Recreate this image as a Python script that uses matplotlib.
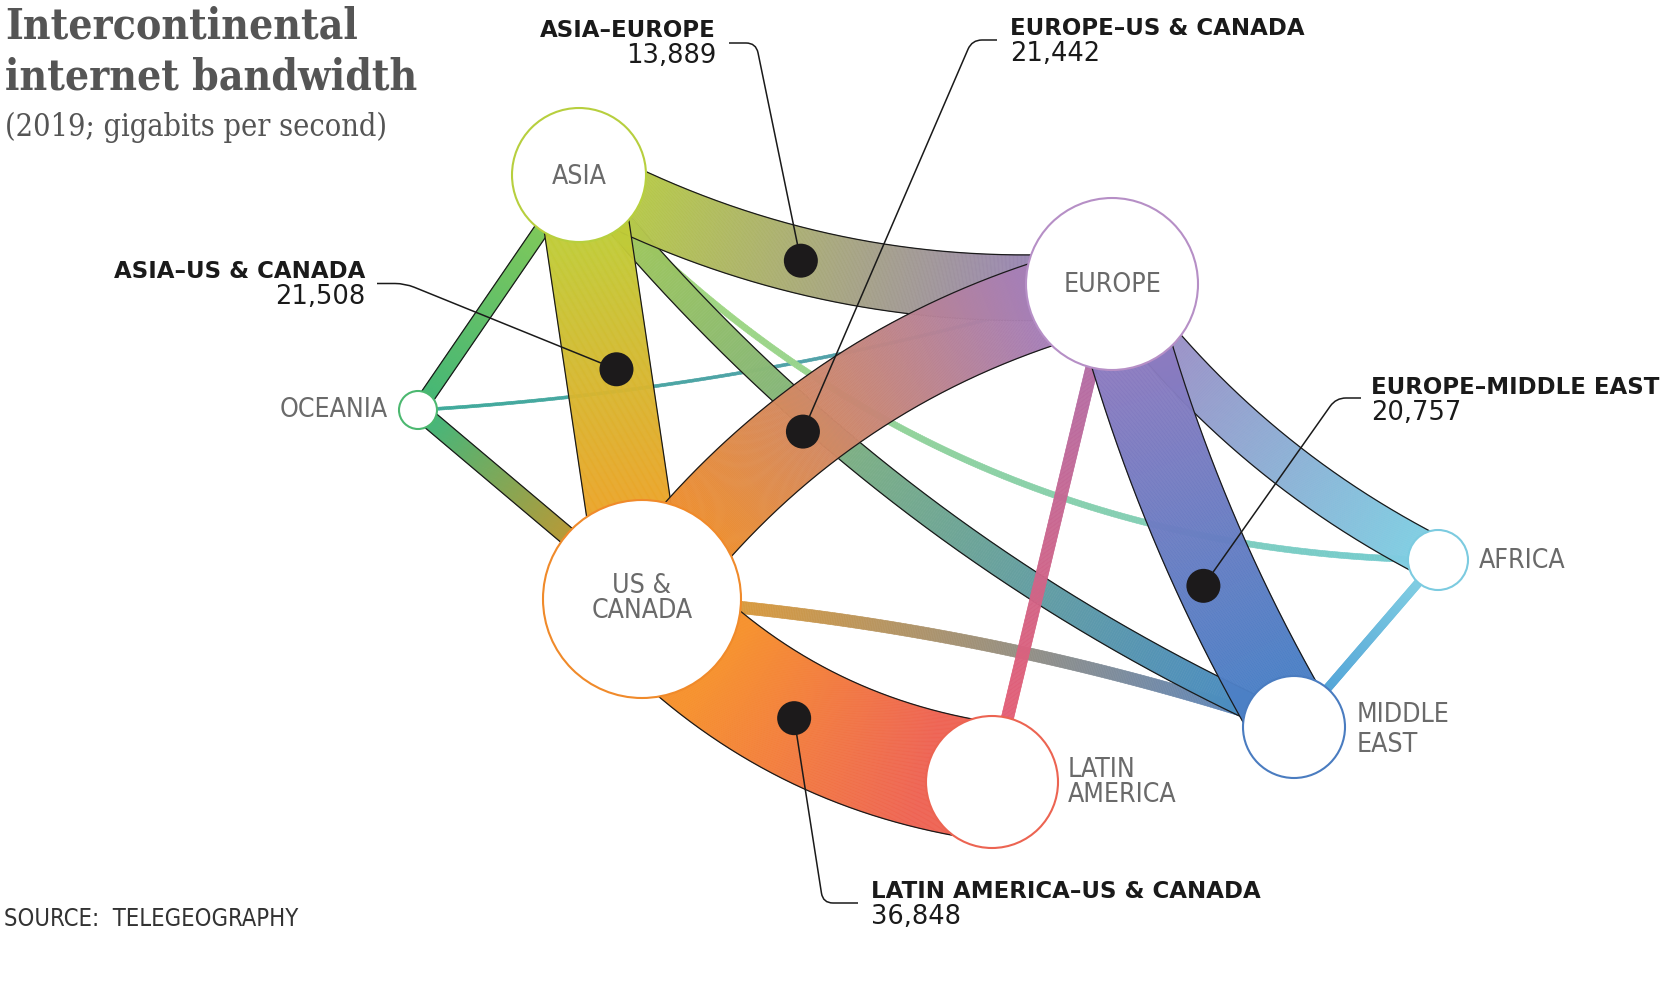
import numpy as np
import matplotlib
matplotlib.use("Agg")
import matplotlib.pyplot as plt
from matplotlib.collections import PolyCollection
from matplotlib.patches import Circle, PathPatch
from matplotlib.path import Path
from matplotlib.colors import to_rgb
from matplotlib import font_manager as fm

# ---------------- data ----------------
regions = ["ASIA", "EUROPE", "OCEANIA", "US & CANADA", "LATIN AMERICA", "MIDDLE EAST", "AFRICA"]
region_labels = ["ASIA", "EUROPE", "OCEANIA", "US &\nCANADA", "LATIN\nAMERICA", "MIDDLE\nEAST", "AFRICA"]

# links (drawing order, back to front); unlabelled values are estimates read from ribbon widths
link_from = ["OCEANIA", "ASIA", "US & CANADA", "ASIA", "EUROPE", "ASIA", "OCEANIA",
             "ASIA", "ASIA", "US & CANADA", "EUROPE", "AFRICA", "EUROPE", "US & CANADA"]
link_to = ["EUROPE", "AFRICA", "MIDDLE EAST", "MIDDLE EAST", "LATIN AMERICA", "OCEANIA", "US & CANADA",
           "EUROPE", "US & CANADA", "EUROPE", "AFRICA", "MIDDLE EAST", "MIDDLE EAST", "LATIN AMERICA"]
link_gbps = [80, 260, 850, 3000, 850, 1200, 1600,
             13889, 21508, 21442, 7100, 450, 20757, 36848]

labelled_from = ["ASIA", "US & CANADA", "ASIA", "EUROPE", "US & CANADA"]
labelled_to = ["EUROPE", "EUROPE", "US & CANADA", "MIDDLE EAST", "LATIN AMERICA"]
labelled_titles = ["ASIA–EUROPE", "EUROPE–US & CANADA", "ASIA–US & CANADA",
                   "EUROPE–MIDDLE EAST", "LATIN AMERICA–US & CANADA"]

title_lines = ["Intercontinental", "internet bandwidth"]
subtitle = "(2019; gigabits per second)"
source_text = "SOURCE:  TELEGEOGRAPHY"

# ---------------- layout / style ----------------
W, H = 1665, 1006
node_xy = {"ASIA": (579, 175), "EUROPE": (1112, 284), "OCEANIA": (418, 410),
           "US & CANADA": (642, 599), "LATIN AMERICA": (992, 782),
           "MIDDLE EAST": (1294, 727), "AFRICA": (1438, 560)}
node_r = {"ASIA": 67, "EUROPE": 86, "OCEANIA": 19, "US & CANADA": 99,
          "LATIN AMERICA": 66, "MIDDLE EAST": 51, "AFRICA": 30}
node_color = {"ASIA": "#b7cf3e", "EUROPE": "#b68fc6", "OCEANIA": "#4cb870",
              "US & CANADA": "#f08a2a", "LATIN AMERICA": "#ec6452",
              "MIDDLE EAST": "#4a7cc0", "AFRICA": "#7ccbe0"}
# (x, baselines, ha)
node_label_pos = {"ASIA": (579, [184], "center"), "EUROPE": (1113, [292], "center"),
                  "OCEANIA": (388, [417], "right"), "US & CANADA": (642, [593, 618], "center"),
                  "LATIN AMERICA": (1068, [777, 802], "left"),
                  "MIDDLE EAST": (1357, [722, 752], "left"), "AFRICA": (1479, [568], "left")}

link_bend = [0.03, 0.108, -0.032, 0.06, 0.0, 0.0, 0.0,
             0.074, 0.0, -0.091, 0.06, 0.0, 0.035, 0.089]
link_c0 = ["#3da99a", "#a6d877", "#d99a3e", "#a0c85c", "#b46ea6", "#7dc85a", "#45b679",
           "#b6c84a", "#c1cc38", "#ec8f33", "#9b92c8", "#80cde2", "#8b7bc0", "#f6912c"]
link_c1 = ["#5a9cb0", "#74cbd0", "#5d87bd", "#4a8cc2", "#e35f76", "#45b774", "#b59a36",
           "#9a87b2", "#eaa62a", "#a77fb6", "#80cde2", "#55a6d8", "#4c80c6", "#ee6353"]

annot_t = [0.43, 0.40, 0.46, 0.655, 0.48]
annot_off = [0, 0, -8.5, 15, 0]
annot_text_xy = [(716, 37), (1010, 35), (365, 278), (1371, 394), (871, 898)]
annot_ha = ["right", "left", "right", "left", "left"]
annot_lead = [[(729, 43), (756, 43)], [(997, 40), (972, 40)], [(377, 283.5), (405, 283.5)],
              [(1361, 398), (1336, 398)], [(858, 903), (823, 903)]]


def width_px(v):
    return 0.2147 * v ** 0.6


def px2pt(px):
    return px * 72.0 / 100.0


def has_font(**kw):
    try:
        return fm.findfont(fm.FontProperties(**kw), fallback_to_default=False)
    except Exception:
        return None


sans_cond = has_font(family="DejaVu Sans", stretch="condensed")
SANS_STRETCH = "condensed" if (sans_cond and "Condensed" in sans_cond) else "normal"
serif_cond = has_font(family="DejaVu Serif", weight="bold", stretch="condensed")
COND = bool(serif_cond) and ("Condensed" in serif_cond)
SERIF_STRETCH = "condensed" if COND else "normal"


def bezier(p0, p2, bend, n=400):
    p0 = np.asarray(p0, float)
    p2 = np.asarray(p2, float)
    d = p2 - p0
    L = np.hypot(*d)
    u = d / L
    nrm = np.array([-u[1], u[0]])
    c = (p0 + p2) / 2 + 2 * bend * L * nrm
    t = np.linspace(0, 1, n)[:, None]
    pts = (1 - t) ** 2 * p0 + 2 * t * (1 - t) * c + t ** 2 * p2
    der = 2 * (1 - t) * (c - p0) + 2 * t * (p2 - c)
    return t.ravel(), pts, der


fig = plt.figure(figsize=(W / 100, H / 100), dpi=100)
ax = fig.add_axes([0, 0, 1, 1])
ax.set_xlim(0, W)
ax.set_ylim(H, 0)
ax.axis("off")

curves = {}
for i, (a, b, v) in enumerate(zip(link_from, link_to, link_gbps)):
    p0, p2 = node_xy[a], node_xy[b]
    t, pts, der = bezier(p0, p2, link_bend[i])
    curves[(a, b)] = (t, pts, der)
    w = width_px(v)
    tang = der / np.linalg.norm(der, axis=1)[:, None]
    nn = np.column_stack([-tang[:, 1], tang[:, 0]])
    left = pts + nn * w / 2
    right = pts - nn * w / 2
    d0 = np.hypot(*(pts - np.asarray(p0)).T)
    d2 = np.hypot(*(pts - np.asarray(p2)).T)
    ta = t[np.argmax(d0 > node_r[a])]
    tb = t[len(t) - 1 - np.argmax(d2[::-1] > node_r[b])]
    c0 = np.array(to_rgb(link_c0[i]))
    c1 = np.array(to_rgb(link_c1[i]))
    tm = (t[:-1] + t[1:]) / 2
    uu = np.clip((tm - ta) / max(tb - ta, 1e-6), 0, 1)[:, None]
    cols = c0 * (1 - uu) + c1 * uu
    polys = [np.array([left[k], left[k + 1], right[k + 1], right[k]]) for k in range(len(t) - 1)]
    z = 2 + i * 0.01
    pc = PolyCollection(polys, facecolors=cols, edgecolors=cols, linewidths=0.4, zorder=z)
    ax.add_collection(pc)
    if w >= 14:
        for side in (left, right):
            ax.plot(side[:, 0], side[:, 1], color="#1a1a1a", lw=0.9, zorder=z + 0.005,
                    solid_capstyle="butt")

# nodes
for name, lab in zip(regions, region_labels):
    x, y = node_xy[name]
    ax.add_patch(Circle((x, y), node_r[name], facecolor="white", edgecolor=node_color[name],
                        lw=1.5, zorder=5))
    lx, bases, ha = node_label_pos[name]
    for line, by in zip(lab.split("\n"), bases):
        ax.text(lx, by, line, ha=ha, va="baseline", fontsize=px2pt(26.5), color="#6a6a6a",
                family="DejaVu Sans", fontstretch=SANS_STRETCH, zorder=6)

# annotations
for k, (a, b) in enumerate(zip(labelled_from, labelled_to)):
    t, pts, der = curves[(a, b)]
    j = int(round(annot_t[k] * (len(t) - 1)))
    tang = der[j] / np.linalg.norm(der[j])
    nn = np.array([-tang[1], tang[0]])
    dot = pts[j] + nn * annot_off[k]
    pa = np.array(annot_lead[k][0], float)
    kc = np.array(annot_lead[k][1], float)
    pb = dot
    r = 10
    q1 = kc + r * (pa - kc) / np.linalg.norm(pa - kc)
    q2 = kc + r * (pb - kc) / np.linalg.norm(pb - kc)
    path = Path([pa, q1, kc, q2, pb],
                [Path.MOVETO, Path.LINETO, Path.CURVE3, Path.CURVE3, Path.LINETO])
    ax.add_patch(PathPatch(path, facecolor="none", edgecolor="#1a1a1a", lw=1.1, zorder=7))
    ax.add_patch(Circle(dot, 17, facecolor="#1c1a1b", edgecolor="none", zorder=8))
    idx = [i for i in range(len(link_from)) if link_from[i] == a and link_to[i] == b][0]
    tx, ty = annot_text_xy[k]
    ax.text(tx, ty, labelled_titles[k], ha=annot_ha[k], va="baseline", fontsize=16.5,
            fontweight="bold", color="#1a1a1a", family="DejaVu Sans", zorder=9)
    ax.text(tx, ty + 26, f"{link_gbps[idx]:,}", ha=annot_ha[k], va="baseline", fontsize=18.5,
            color="#1a1a1a", family="DejaVu Sans", zorder=9)

# title block
tsize = 30.5 if COND else 27.5
for line, by in zip(title_lines, [38, 89]):
    ax.text(5, by, line, fontsize=tsize, fontweight="bold", fontstretch=SERIF_STRETCH,
            family="DejaVu Serif", color="#555555", va="baseline", ha="left")
ax.text(5, 136, subtitle, fontsize=22, family="DejaVu Serif", fontstretch=SERIF_STRETCH,
        color="#555555", va="baseline", ha="left")
ax.text(4, 926, source_text, fontsize=17, family="DejaVu Sans", fontstretch=SANS_STRETCH,
        color="#333333", va="baseline", ha="left")

fig.savefig("out.png", dpi=100, facecolor="white")
